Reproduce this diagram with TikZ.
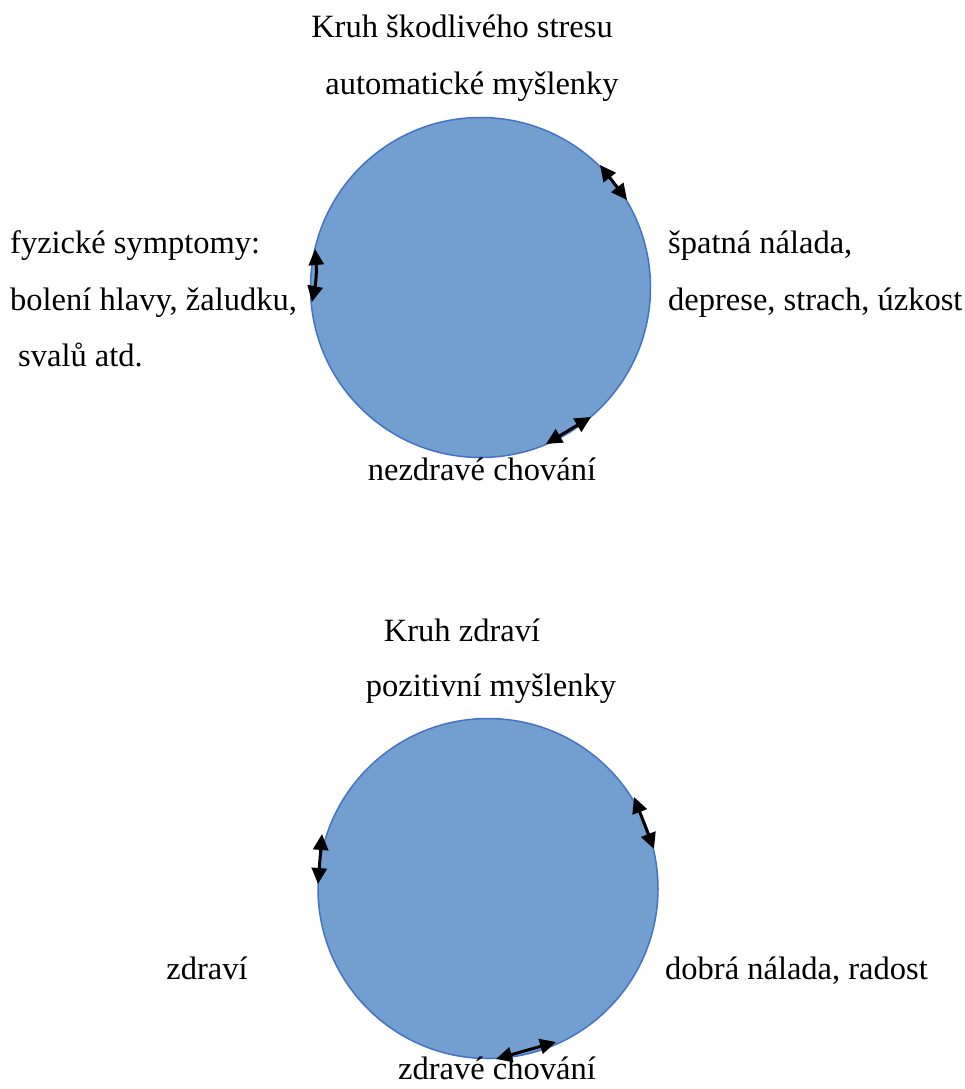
\documentclass[tikz,border=0pt]{standalone}
\usepackage{fontspec}
\setmainfont{Liberation Serif}
\usetikzlibrary{arrows.meta}
\definecolor{cfill}{RGB}{114,159,207}
\definecolor{cline}{RGB}{68,114,196}
\tikzset{
  ring/.style={circle, fill=cfill, draw=cline, line width=1.5pt, minimum size=340pt, inner sep=0pt},
  lbl/.style={inner sep=0pt, font=\fontsize{32.5}{38}\selectfont},
  dbl/.style={line width=3pt, {Triangle[length=16pt,width=15pt]}-{Triangle[length=16pt,width=15pt]}}
}
\begin{document}
\begin{tikzpicture}[x=1pt,y=-1pt]
\useasboundingbox (0,0) rectangle (964,1089);
% circle 1
\node[ring] (c1) at (480.5,287.5) {};
\node[lbl, anchor=mid] (t1) at (462,35) {Kruh škodlivého stresu};
\node[lbl, anchor=mid] (t2) at (472,92) {automatické myšlenky};
\node[lbl, anchor=mid west] (l1) at (10,251) {fyzické symptomy:};
\node[lbl, anchor=mid west] (l2) at (10,308) {bolení hlavy, žaludku,};
\node[lbl, anchor=mid west] (l3) at (18,364) {svalů atd.};
\node[lbl, anchor=mid west] (r1) at (668,251) {špatná nálada,};
\node[lbl, anchor=mid west] (r2) at (668,308) {deprese, strach, úzkost};
\node[lbl, anchor=mid] (b1) at (482,478) {nezdravé chování};
\coordinate (a1s) at (600,165);
\coordinate (a1e) at (627,200);
\coordinate (a2s) at (315,249);
\coordinate (a2e) at (312,302);
\coordinate (a3s) at (546,444);
\coordinate (a3e) at (591,417);
\draw[dbl] (a1s) -- (a1e);
\draw[dbl] (a2s) to[bend left=8] (a2e);
\draw[dbl] (a3s) -- (a3e);
% circle 2
\node[ring] (c2) at (488,888.5) {};
\node[lbl, anchor=mid] (t3) at (462,639) {Kruh zdraví};
\node[lbl, anchor=mid] (t4) at (491,694) {pozitivní myšlenky};
\node[lbl, anchor=mid] (l4) at (207,977) {zdraví};
\node[lbl, anchor=mid west] (r4) at (665,977) {dobrá nálada, radost};
\node[lbl, anchor=mid] (b2) at (497,1077) {zdravé chování};
\coordinate (d1s) at (322,834);
\coordinate (d1e) at (318,884);
\coordinate (d2s) at (634,797);
\coordinate (d2e) at (654,849);
\coordinate (d3s) at (496,1059);
\coordinate (d3e) at (556,1042);
\draw[dbl] (d1s) -- (d1e);
\draw[dbl] (d2s) -- (d2e);
\draw[dbl] (d3s) -- (d3e);
\end{tikzpicture}
\end{document}
